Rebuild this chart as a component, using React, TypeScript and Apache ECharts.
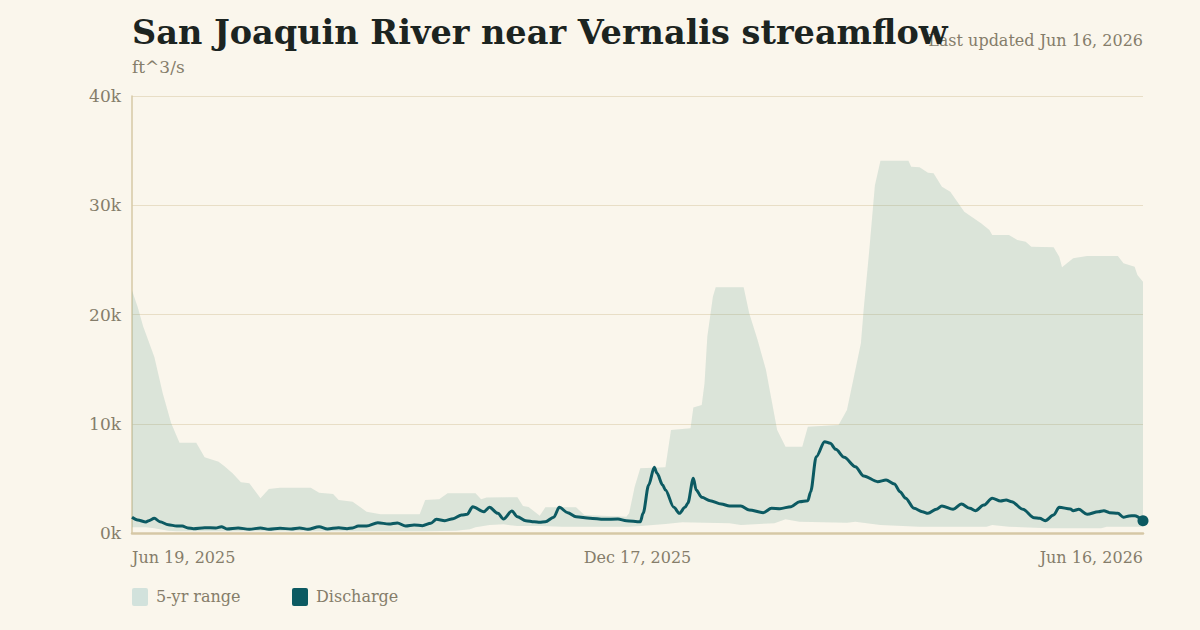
import React, { useEffect, useRef } from "react";
import * as echarts from "echarts";

// ---- Data (day offsets from Jun 19, 2025) ----
const startDate = "2025-06-19";
const xTickDays = [0, 181, 362];

const rangeDays = [0, 2, 4, 8, 11, 14, 17, 23, 26, 31, 33, 36, 39, 42, 46, 49, 53, 64, 67, 72, 74, 79, 84, 89, 103, 105, 110, 113, 123, 125, 127, 138, 140, 142, 146, 148, 159, 162, 177, 178, 180, 182, 191, 193, 200, 201, 204, 205, 206, 208, 209, 219, 221, 224, 227, 229, 231, 234, 240, 242, 253, 256, 258, 261, 262, 264, 266, 268, 278, 279, 282, 285, 287, 290, 293, 298, 304, 307, 308, 314, 317, 320, 322, 330, 332, 333, 337, 342, 353, 355, 359, 360, 362];
const rangeHigh = [22200, 20700, 18900, 16100, 12800, 10070, 8270, 8270, 6930, 6530, 6130, 5460, 4640, 4560, 3180, 4030, 4150, 4150, 3690, 3570, 3020, 2870, 1950, 1710, 1710, 3020, 3080, 3630, 3630, 3080, 3250, 3270, 2470, 2380, 1570, 2350, 2350, 1650, 1490, 1800, 4240, 5920, 6010, 9430, 9580, 11480, 11720, 13700, 17970, 21630, 22490, 22490, 20110, 17660, 14920, 12170, 9430, 7900, 7900, 9730, 9880, 11260, 13700, 17360, 20500, 25900, 31800, 34080, 34080, 33530, 33470, 32980, 32920, 31700, 31240, 29410, 28350, 27730, 27280, 27280, 26820, 26660, 26210, 26150, 25290, 24320, 25140, 25350, 25350, 24690, 24380, 23610, 23000];

const lowDays = [0, 5, 8, 10, 13, 16, 105, 116, 121, 123, 128, 133, 138, 146, 154, 178, 182, 191, 197, 214, 218, 230, 234, 239, 256, 259, 268, 282, 306, 308, 314, 328, 347, 349, 362];
const rangeLow = [520, 520, 430, 340, 200, 150, 150, 200, 340, 520, 730, 790, 640, 640, 580, 580, 640, 820, 980, 890, 730, 900, 1250, 1030, 940, 1030, 730, 580, 580, 730, 580, 430, 430, 580, 580];

const flowDays = [0, 2, 5, 6, 8, 10, 13, 16, 18, 20, 22, 26, 30, 32, 34, 38, 42, 46, 49, 53, 57, 60, 63, 67, 70, 74, 77, 79, 81, 84, 88, 92, 95, 98, 101, 104, 107, 109, 112, 115, 118, 120, 122, 126, 128, 131, 133, 136, 138, 141, 144, 146, 148, 151, 153, 156, 159, 164, 169, 174, 177, 182, 183, 185, 187, 188, 190, 191, 194, 196, 198, 199, 201, 202, 204, 207, 211, 214, 218, 221, 226, 229, 232, 236, 239, 242, 243, 245, 248, 250, 252, 255, 259, 262, 267, 270, 273, 275, 277, 280, 283, 285, 288, 290, 294, 297, 300, 302, 305, 308, 311, 313, 315, 319, 323, 325, 327, 330, 332, 336, 337, 339, 342, 346, 348, 350, 353, 355, 357, 359, 362];
const flow = [1440, 1190, 1010, 1130, 1350, 1030, 760, 640, 640, 460, 400, 490, 460, 580, 370, 460, 340, 460, 340, 430, 370, 460, 340, 580, 370, 480, 400, 460, 640, 640, 940, 820, 920, 640, 730, 670, 890, 1250, 1130, 1310, 1650, 1710, 2410, 1950, 2350, 1800, 1280, 2010, 1490, 1130, 1030, 980, 1030, 1440, 2350, 1860, 1490, 1350, 1250, 1280, 1130, 1030, 1800, 4390, 6010, 5460, 4390, 3940, 2350, 1800, 2350, 2720, 5010, 3940, 3270, 2960, 2650, 2470, 2470, 2110, 1860, 2260, 2230, 2410, 2870, 2960, 3780, 6980, 8360, 8210, 7660, 6930, 6070, 5220, 4700, 4850, 4490, 3780, 3180, 2260, 1950, 1800, 2170, 2470, 2170, 2650, 2260, 2040, 2560, 3180, 2930, 3020, 2870, 2170, 1400, 1350, 1130, 1650, 2350, 2200, 2040, 2170, 1710, 1950, 2040, 1860, 1800, 1440, 1560, 1580, 1130];

const yTicks = [0, 10000, 20000, 30000, 40000];

const FONT = '"DejaVu Serif", Georgia, serif';
const BG = "#faf6ec";
const TEAL = "#0c5a62";
const GREY = "#857d6a";

const MONTHS = ["Jan", "Feb", "Mar", "Apr", "May", "Jun", "Jul", "Aug", "Sep", "Oct", "Nov", "Dec"];
function dayLabel(d: number): string {
  const base = new Date(startDate + "T00:00:00Z").getTime();
  const dt = new Date(base + Math.round(d) * 86400000);
  return `${MONTHS[dt.getUTCMonth()]} ${dt.getUTCDate()}, ${dt.getUTCFullYear()}`;
}

export default function App() {
  const ref = useRef<HTMLDivElement>(null);
  useEffect(() => {
    document.body.style.margin = "0";
    document.body.style.background = BG;
    const chart = echarts.init(ref.current!, null, { renderer: "svg" });
    const lastDay = flowDays[flowDays.length - 1];
    const lastVal = flow[flow.length - 1];
    const option: any = {
      animation: false,
      backgroundColor: BG,
      textStyle: { fontFamily: FONT },
      grid: { left: 132, right: 57, top: 96, bottom: 97, containLabel: false },
      xAxis: {
        type: "value",
        min: xTickDays[0],
        max: xTickDays[2],
        interval: xTickDays[1] - xTickDays[0],
        axisLine: { show: true, onZero: false, lineStyle: { color: "#d6c8a6", width: 2.5 } },
        axisTick: { show: false },
        splitLine: { show: false },
        axisLabel: {
          color: GREY,
          fontFamily: FONT,
          fontSize: 16,
          margin: 16,
          formatter: (v: number) => dayLabel(v),
          alignMinLabel: "left",
          alignMaxLabel: "right",
          showMinLabel: true,
          showMaxLabel: true,
        },
      },
      yAxis: {
        type: "value",
        min: yTicks[0],
        max: yTicks[yTicks.length - 1],
        interval: yTicks[1] - yTicks[0],
        axisLine: { show: true, lineStyle: { color: "#d6c8a6", width: 1.5 } },
        axisTick: { show: false },
        splitLine: { show: true, lineStyle: { color: "#e8dec6", width: 1 } },
        axisLabel: {
          color: GREY,
          fontFamily: FONT,
          fontSize: 17,
          margin: 11,
          formatter: (v: number) => `${v / 1000}k`,
        },
      },
      series: [
        {
          type: "custom",
          name: "5-yr range",
          z: 1,
          silent: true,
          data: rangeDays.map((d, i) => [d, rangeHigh[i]]),
          renderItem: (params: any, api: any) => {
            if (params.dataIndex !== 0) return null;
            const top = rangeDays.map((d, i) => api.coord([d, rangeHigh[i]]));
            const bot = lowDays
              .map((d, i) => api.coord([d, rangeLow[i]]))
              .reverse();
            return {
              type: "polygon",
              shape: { points: top.concat(bot) },
              style: { fill: "rgba(110,165,150,0.22)" },
            };
          },
        },
        {
          type: "line",
          name: "Discharge",
          z: 3,
          silent: true,
          data: flowDays.map((d, i) => [d, flow[i]]),
          showSymbol: false,
          smooth: 0.3,
          smoothMonotone: "x",
          lineStyle: { color: TEAL, width: 3 },
        },
        {
          type: "scatter",
          z: 4,
          silent: true,
          data: [[lastDay, lastVal]],
          symbolSize: 11,
          itemStyle: { color: TEAL, opacity: 1 },
        },
      ],
      graphic: [
        {
          type: "text",
          right: 57,
          top: 32,
          z: 10,
          style: { text: "Last updated Jun 16, 2026", fill: GREY, font: `16px ${FONT}`, textAlign: "right" },
        },
        {
          type: "text",
          left: 132,
          top: 15,
          z: 20,
          style: { text: "San Joaquin River near Vernalis streamflow", fill: "#1c2421", font: `bold 33.5px ${FONT}` },
        },
        {
          type: "text",
          left: 132,
          top: 58,
          z: 10,
          style: { text: "ft^3/s", fill: GREY, font: `17px ${FONT}` },
        },
        {
          type: "rect",
          left: 132,
          top: 588,
          z: 10,
          shape: { width: 16, height: 18, r: 2 },
          style: { fill: "#d2e2dc" },
        },
        {
          type: "text",
          left: 156,
          top: 588,
          z: 10,
          style: { text: "5-yr range", fill: GREY, font: `16px ${FONT}` },
        },
        {
          type: "rect",
          left: 292,
          top: 588,
          z: 10,
          shape: { width: 16, height: 18, r: 2 },
          style: { fill: TEAL },
        },
        {
          type: "text",
          left: 316,
          top: 588,
          z: 10,
          style: { text: "Discharge", fill: GREY, font: `16px ${FONT}` },
        },
      ],
    };
    chart.setOption(option);
    return () => chart.dispose();
  }, []);
  return (
    <div
      ref={ref}
      style={{ position: "fixed", left: 0, top: 0, width: 1200, height: 630, background: BG }}
    />
  );
}
